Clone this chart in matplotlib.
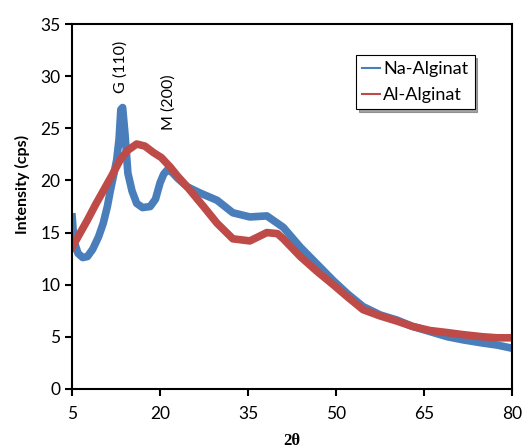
import numpy as np
import matplotlib
matplotlib.use('Agg')
import matplotlib.pyplot as plt

# values (band centres)
na_x = [5, 5.3, 6, 6.8, 7.6, 8.5, 9.5, 10.3, 11, 11.5, 12.1, 12.6, 13.0, 13.3, 13.6,
        14.0, 14.5, 15.2, 16, 17, 18.3, 19.2, 20, 20.6, 21.2, 22, 23, 24.6, 26.8,
        29.7, 32.4, 35.3, 38.2, 41, 43.9, 46.7, 49.5, 52, 54.6, 57.5, 60.4,
        63, 66, 69, 71.7, 75, 77.5, 80]
na_y = [16.5, 14.2, 13.0, 12.6, 12.7, 13.4, 14.6, 15.9, 17.5, 19.0, 20.6, 22.0, 24.0, 26.8, 27.0,
        24.5, 20.7, 19.0, 17.8, 17.4, 17.5, 18.2, 19.8, 20.6, 21.0, 20.8, 20.2, 19.4, 18.8,
        18.1, 16.9, 16.5, 16.6, 15.5, 13.6, 12.0, 10.4, 9.1, 7.9, 7.1, 6.6,
        6.0, 5.5, 5.0, 4.7, 4.4, 4.2, 3.9]

al_x = [5, 6, 7.6, 9, 10.3, 11.8, 13.2, 14.5, 16, 17.4, 18.8, 20.2, 21.7, 23, 24.6,
        26.8, 27.4, 29.7, 32.4, 35.3, 38.2, 40, 41, 43.9, 46.7, 49.5, 52, 54.6,
        57.5, 60.4, 63, 66, 69, 71.7, 75, 77.5, 80]
al_y = [13.6, 14.6, 16.2, 17.7, 19.0, 20.5, 22.0, 22.9, 23.5, 23.3, 22.7, 22.2, 21.3, 20.4, 19.4,
        17.9, 17.5, 15.9, 14.4, 14.2, 15.0, 14.9, 14.4, 12.7, 11.3, 10.0, 8.8, 7.6,
        7.0, 6.5, 6.0, 5.6, 5.4, 5.2, 5.0, 4.9, 4.9]

fig = plt.figure(figsize=(5.23, 4.48), dpi=100)
ax = fig.add_axes([0.138, 0.132, 0.841, 0.814])

ax.plot(na_x, na_y, color='#4a7ebb', lw=5.5, label='Na-Alginat')
ax.plot(al_x, al_y, color='#be4b48', lw=5.5, label='Al-Alginat')

ax.set_xlim(5, 80)
ax.set_ylim(0, 35)
ax.set_xticks([5, 20, 35, 50, 65, 80])
ax.set_yticks(range(0, 36, 5))
for s in ax.spines.values():
    s.set_linewidth(1.5)
ax.tick_params(direction='out', length=5, width=1.5, labelsize=12.5, colors='black')
for lab in ax.get_xticklabels() + ax.get_yticklabels():
    lab.set_fontfamily('Lato')
ax.tick_params(axis='x', pad=7)

ax.set_ylabel('Intensity (cps)', fontsize=11.5, fontweight='bold', family='Lato')
ax.yaxis.set_label_coords(-0.097, 0.56)
fig.text(0.558, 1 - 441 / 448, '2θ', ha='center', va='center', fontsize=12,
         fontweight='bold', family='Liberation Serif')

ax.text(13.3, 28.4, 'G (110)', rotation=90, ha='center', va='bottom', fontsize=11.5, family='Lato')
ax.text(21.4, 24.8, 'M (200)', rotation=90, ha='center', va='bottom', fontsize=11.5, family='Lato')

leg = ax.legend(loc='upper right', bbox_to_anchor=(0.915, 0.916), fancybox=False, shadow=True,
                handlelength=1.0, handletextpad=0.15, borderpad=0.35, labelspacing=0.55,
                borderaxespad=0, prop={'family': 'Lato', 'size': 13})
leg.get_frame().set_edgecolor('black')
leg.get_frame().set_linewidth(0.8)
for h in leg.get_lines():
    h.set_linewidth(1.5)

fig.savefig('out.png', dpi=100)
